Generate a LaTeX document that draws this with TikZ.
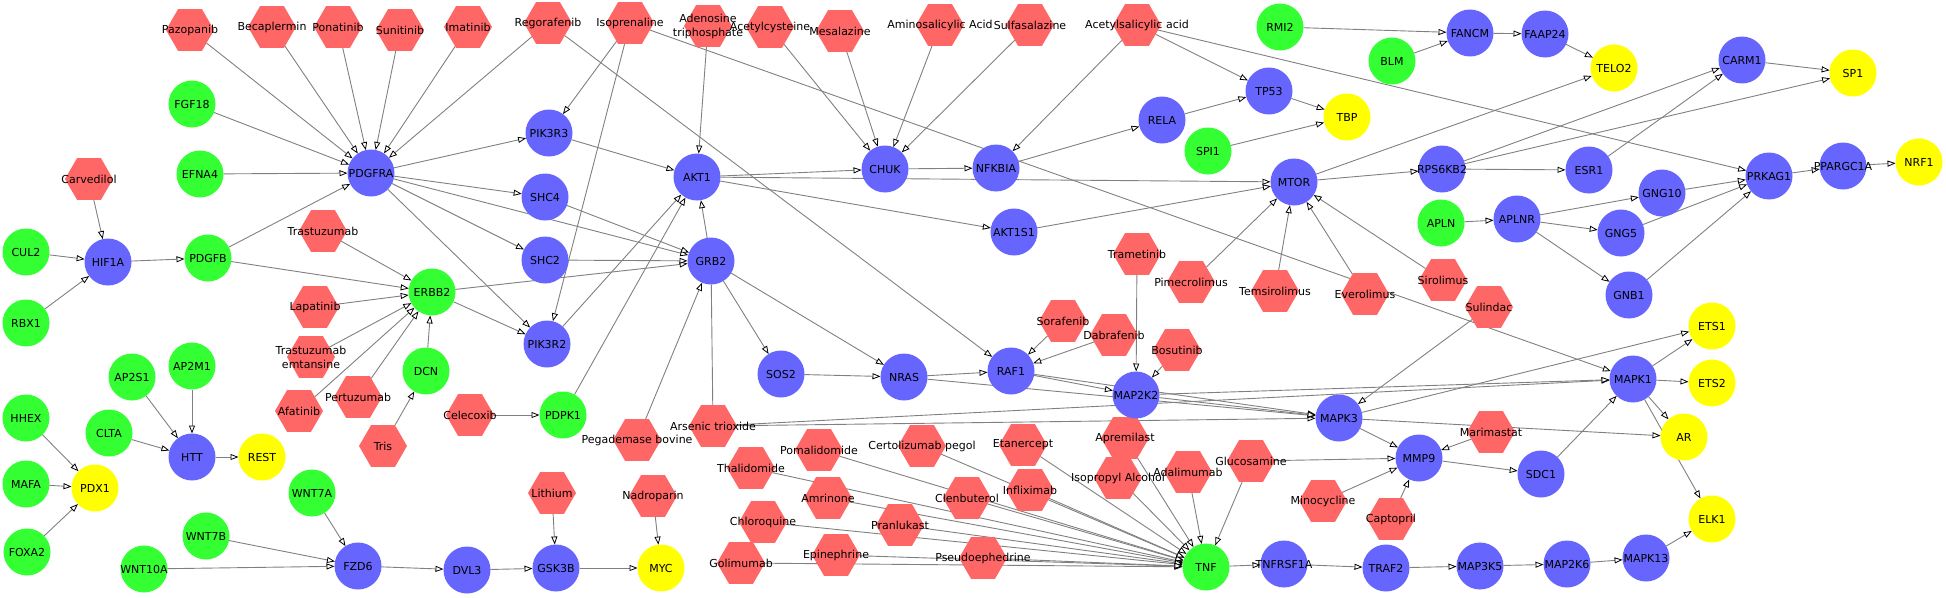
\documentclass[tikz,border=0pt]{standalone}
\usepackage{fontspec}
\setmainfont{DejaVu Sans}
\usetikzlibrary{shapes.geometric,arrows.meta,backgrounds}
\definecolor{nblue}{RGB}{102,102,255}
\definecolor{ngreen}{RGB}{51,255,51}
\definecolor{nyellow}{RGB}{255,255,0}
\definecolor{nred}{RGB}{255,102,102}
\definecolor{edgec}{RGB}{128,128,128}
\makeatletter
\newcommand\mylabels{}
\newcommand\nd[4]{\node[#1] (#2) at (#3) {};\g@addto@macro\mylabels{\node[lbl] at (#2) {#4};}}
\makeatother
\begin{document}
\begin{tikzpicture}[x=1pt,y=-1pt,
  bl/.style={circle,fill=nblue,minimum size=47pt,inner sep=0pt,outer sep=0pt},
  gr/.style={circle,fill=ngreen,minimum size=47pt,inner sep=0pt,outer sep=0pt},
  ye/.style={circle,fill=nyellow,minimum size=47pt,inner sep=0pt,outer sep=0pt},
  dr/.style={regular polygon,regular polygon sides=6,fill=nred,minimum size=48pt,inner sep=0pt,outer sep=0pt},
  lbl/.style={font=\fontsize{11}{14}\selectfont,align=center,inner sep=0pt,text=black},
  edge/.style={draw=edgec,line width=0.9pt,-{Triangle[length=8pt,width=6pt,fill=white,color=black,line width=0.8pt]}}]
\useasboundingbox (0,0) rectangle (1946,597);
% drugs
\nd{dr}{pazopanib}{190,30}{Pazopanib}
\nd{dr}{becaplermin}{272,27}{Becaplermin}
\nd{dr}{ponatinib}{338,27}{Ponatinib}
\nd{dr}{sunitinib}{400,30}{Sunitinib}
\nd{dr}{imatinib}{468,27}{Imatinib}
\nd{dr}{regorafenib}{548,23}{Regorafenib}
\nd{dr}{isoprenaline}{630,23}{Isoprenaline}
\nd{dr}{atp}{708,26}{Adenosine\\triphosphate}
\nd{dr}{acetylcysteine}{770,27}{Acetylcysteine}
\nd{dr}{mesalazine}{840,31}{Mesalazine}
\nd{dr}{aminosal}{940,25}{Aminosalicylic Acid}
\nd{dr}{sulfasalazine}{1030,25}{Sulfasalazine}
\nd{dr}{aspirin}{1137,25}{Acetylsalicylic acid}
\nd{dr}{carvedilol}{89,179}{Carvedilol}
\nd{dr}{trastuzumab}{323,231}{Trastuzumab}
\nd{dr}{lapatinib}{315,307}{Lapatinib}
\nd{dr}{tdm}{311,357}{Trastuzumab\\emtansine}
\nd{dr}{afatinib}{299,411}{Afatinib}
\nd{dr}{pertuzumab}{358,397}{Pertuzumab}
\nd{dr}{tris}{383,446}{Tris}
\nd{dr}{celecoxib}{470,415}{Celecoxib}
\nd{dr}{pegademase}{637,440}{Pegademase bovine}
\nd{dr}{arsenic}{713,426}{Arsenic trioxide}
\nd{dr}{lithium}{552,493}{Lithium}
\nd{dr}{nadroparin}{653,496}{Nadroparin}
\nd{dr}{pomalidomide}{819,450}{Pomalidomide}
\nd{dr}{certolizumab}{922,446}{Certolizumab pegol}
\nd{dr}{thalidomide}{751,468}{Thalidomide}
\nd{dr}{amrinone}{828,498}{Amrinone}
\nd{dr}{chloroquine}{763,522}{Chloroquine}
\nd{dr}{pranlukast}{900,525}{Pranlukast}
\nd{dr}{golimumab}{741,563}{Golimumab}
\nd{dr}{epinephrine}{836,555}{Epinephrine}
\nd{dr}{clenbuterol}{967,498}{Clenbuterol}
\nd{dr}{pseudoephedrine}{983,558}{Pseudoephedrine}
\nd{dr}{etanercept}{1023,445}{Etanercept}
\nd{dr}{infliximab}{1030,490}{Infliximab}
\nd{dr}{apremilast}{1125,438}{Apremilast}
\nd{dr}{isopropyl}{1118,478}{Isopropyl Alcohol}
\nd{dr}{adalimumab}{1188,472}{Adalimumab}
\nd{dr}{glucosamine}{1251,461}{Glucosamine}
\nd{dr}{sorafenib}{1063,321}{Sorafenib}
\nd{dr}{dabrafenib}{1114,335}{Dabrafenib}
\nd{dr}{bosutinib}{1177,350}{Bosutinib}
\nd{dr}{minocycline}{1323,501}{Minocycline}
\nd{dr}{captopril}{1391,519}{Captopril}
\nd{dr}{marimastat}{1491,432}{Marimastat}
\nd{dr}{sulindac}{1489,307}{Sulindac}
\nd{dr}{sirolimus}{1443,280}{Sirolimus}
\nd{dr}{everolimus}{1365,294}{Everolimus}
\nd{dr}{temsirolimus}{1275,291}{Temsirolimus}
\nd{dr}{pimecrolimus}{1191,282}{Pimecrolimus}
\nd{dr}{trametinib}{1137,254}{Trametinib}
% green
\nd{gr}{FGF18}{192,104}{FGF18}
\nd{gr}{EFNA4}{200,174}{EFNA4}
\nd{gr}{CUL2}{26,252}{CUL2}
\nd{gr}{RBX1}{26,323}{RBX1}
\nd{gr}{PDGFB}{208,258}{PDGFB}
\nd{gr}{ERBB2}{432,292}{ERBB2}
\nd{gr}{DCN}{426,371}{DCN}
\nd{gr}{AP2S1}{132,377}{AP2S1}
\nd{gr}{AP2M1}{192,366}{AP2M1}
\nd{gr}{HHEX}{26,418}{HHEX}
\nd{gr}{CLTA}{109,433}{CLTA}
\nd{gr}{MAFA}{26,484}{MAFA}
\nd{gr}{FOXA2}{27,552}{FOXA2}
\nd{gr}{WNT7A}{312,493}{WNT7A}
\nd{gr}{WNT7B}{206,536}{WNT7B}
\nd{gr}{WNT10A}{144,569}{WNT10A}
\nd{gr}{PDPK1}{563,415}{PDPK1}
\nd{gr}{RMI2}{1280,27}{RMI2}
\nd{gr}{BLM}{1392,61}{BLM}
\nd{gr}{SPI1}{1208,151}{SPI1}
\nd{gr}{APLN}{1441,223}{APLN}
\nd{gr}{TNF}{1206,567}{TNF}
% blue
\nd{bl}{PDGFRA}{371,173}{PDGFRA}
\nd{bl}{HIF1A}{108,262}{HIF1A}
\nd{bl}{PIK3R3}{549,133}{PIK3R3}
\nd{bl}{SHC4}{545,197}{SHC4}
\nd{bl}{SHC2}{545,260}{SHC2}
\nd{bl}{AKT1}{697,177}{AKT1}
\nd{bl}{GRB2}{711,261}{GRB2}
\nd{bl}{PIK3R2}{547,344}{PIK3R2}
\nd{bl}{CHUK}{885,169}{CHUK}
\nd{bl}{NFKBIA}{996,168}{NFKBIA}
\nd{bl}{RELA}{1162,120}{RELA}
\nd{bl}{TP53}{1269,91}{TP53}
\nd{bl}{MTOR}{1294,182}{MTOR}
\nd{bl}{AKT1S1}{1014,232}{AKT1S1}
\nd{bl}{RPS6KB2}{1442,169}{RPS6KB2}
\nd{bl}{FANCM}{1470,33}{FANCM}
\nd{bl}{FAAP24}{1545,34}{FAAP24}
\nd{bl}{CARM1}{1742,60}{CARM1}
\nd{bl}{ESR1}{1589,170}{ESR1}
\nd{bl}{PRKAG1}{1769,176}{PRKAG1}
\nd{bl}{PPARGC1A}{1843,166}{PPARGC1A}
\nd{bl}{GNG10}{1662,193}{GNG10}
\nd{bl}{APLNR}{1517,219}{APLNR}
\nd{bl}{GNG5}{1621,233}{GNG5}
\nd{bl}{GNB1}{1629,295}{GNB1}
\nd{bl}{HTT}{192,457}{HTT}
\nd{bl}{FZD6}{358,566}{FZD6}
\nd{bl}{DVL3}{467,570}{DVL3}
\nd{bl}{GSK3B}{556,568}{GSK3B}
\nd{bl}{SOS2}{781,374}{SOS2}
\nd{bl}{NRAS}{904,377}{NRAS}
\nd{bl}{RAF1}{1011,371}{RAF1}
\nd{bl}{MAP2K2}{1136,395}{MAP2K2}
\nd{bl}{MAPK3}{1339,418}{MAPK3}
\nd{bl}{MMP9}{1419,458}{MMP9}
\nd{bl}{SDC1}{1541,474}{SDC1}
\nd{bl}{MAPK1}{1633,379}{MAPK1}
\nd{bl}{TNFRSF1A}{1284,564}{TNFRSF1A}
\nd{bl}{TRAF2}{1386,568}{TRAF2}
\nd{bl}{MAP3K5}{1480,566}{MAP3K5}
\nd{bl}{MAP2K6}{1567,564}{MAP2K6}
\nd{bl}{MAPK13}{1646,558}{MAPK13}
% yellow
\nd{ye}{TBP}{1347,117}{TBP}
\nd{ye}{TELO2}{1614,68}{TELO2}
\nd{ye}{SP1}{1853,73}{SP1}
\nd{ye}{NRF1}{1919,162}{NRF1}
\nd{ye}{REST}{262,457}{REST}
\nd{ye}{PDX1}{95,488}{PDX1}
\nd{ye}{MYC}{661,568}{MYC}
\nd{ye}{ETS1}{1712,326}{ETS1}
\nd{ye}{ETS2}{1712,383}{ETS2}
\nd{ye}{AR}{1684,437}{AR}
\nd{ye}{ELK1}{1712,519}{ELK1}
% edges
\begin{pgfonlayer}{background}
\foreach \s/\t in {pazopanib/PDGFRA,becaplermin/PDGFRA,ponatinib/PDGFRA,sunitinib/PDGFRA,imatinib/PDGFRA,regorafenib/PDGFRA,FGF18/PDGFRA,EFNA4/PDGFRA,PDGFB/PDGFRA,
  PDGFRA/PIK3R3,PDGFRA/SHC4,PDGFRA/SHC2,PDGFRA/GRB2,PDGFRA/PIK3R2,
  carvedilol/HIF1A,CUL2/HIF1A,RBX1/HIF1A,HIF1A/PDGFB,PDGFB/ERBB2,
  trastuzumab/ERBB2,lapatinib/ERBB2,tdm/ERBB2,afatinib/ERBB2,pertuzumab/ERBB2,DCN/ERBB2,tris/DCN,
  ERBB2/GRB2,ERBB2/PIK3R2,regorafenib/RAF1,
  isoprenaline/PIK3R3,isoprenaline/PIK3R2,isoprenaline/MAPK1,atp/AKT1,
  acetylcysteine/CHUK,mesalazine/CHUK,aminosal/CHUK,sulfasalazine/CHUK,
  aspirin/NFKBIA,aspirin/TP53,aspirin/PRKAG1,
  PIK3R3/AKT1,SHC4/GRB2,SHC2/GRB2,GRB2/AKT1,PIK3R2/AKT1,PDPK1/AKT1,celecoxib/PDPK1,
  pegademase/GRB2,arsenic/MAPK3,arsenic/MAPK1,
  AKT1/CHUK,AKT1/MTOR,AKT1/AKT1S1,AKT1S1/MTOR,CHUK/NFKBIA,NFKBIA/RELA,RELA/TP53,TP53/TBP,SPI1/TBP,
  pimecrolimus/MTOR,temsirolimus/MTOR,everolimus/MTOR,sirolimus/MTOR,
  MTOR/RPS6KB2,MTOR/TELO2,RMI2/FANCM,BLM/FANCM,FANCM/FAAP24,FAAP24/TELO2,
  RPS6KB2/CARM1,RPS6KB2/SP1,RPS6KB2/ESR1,ESR1/CARM1,CARM1/SP1,
  APLN/APLNR,APLNR/GNG10,APLNR/GNG5,APLNR/GNB1,GNG10/PRKAG1,GNG5/PRKAG1,GNB1/PRKAG1,PRKAG1/PPARGC1A,PPARGC1A/NRF1,
  GRB2/SOS2,GRB2/NRAS,SOS2/NRAS,NRAS/RAF1,NRAS/MAPK3,
  sorafenib/RAF1,dabrafenib/RAF1,RAF1/MAP2K2,RAF1/MAPK3,trametinib/MAP2K2,bosutinib/MAP2K2,MAP2K2/MAPK3,MAP2K2/MAPK1,
  sulindac/MAPK3,MAPK3/ETS1,MAPK3/AR,MAPK3/MMP9,
  marimastat/MMP9,glucosamine/MMP9,minocycline/MMP9,captopril/MMP9,MMP9/SDC1,SDC1/MAPK1,
  MAPK1/ETS1,MAPK1/ETS2,MAPK1/AR,MAPK1/ELK1,
  thalidomide/TNF,pomalidomide/TNF,certolizumab/TNF,amrinone/TNF,clenbuterol/TNF,chloroquine/TNF,pranlukast/TNF,golimumab/TNF,epinephrine/TNF,pseudoephedrine/TNF,etanercept/TNF,infliximab/TNF,apremilast/TNF,isopropyl/TNF,adalimumab/TNF,glucosamine/TNF,
  TNF/TNFRSF1A,TNFRSF1A/TRAF2,TRAF2/MAP3K5,MAP3K5/MAP2K6,MAP2K6/MAPK13,MAPK13/ELK1,
  AP2S1/HTT,AP2M1/HTT,CLTA/HTT,HTT/REST,HHEX/PDX1,MAFA/PDX1,FOXA2/PDX1,
  WNT7A/FZD6,WNT7B/FZD6,WNT10A/FZD6,FZD6/DVL3,DVL3/GSK3B,GSK3B/MYC,lithium/GSK3B,nadroparin/MYC}
  {\draw[edge] (\s) -- (\t);}
\draw[edge,-] (arsenic) -- (GRB2);
\end{pgfonlayer}
\mylabels
\end{tikzpicture}
\end{document}
